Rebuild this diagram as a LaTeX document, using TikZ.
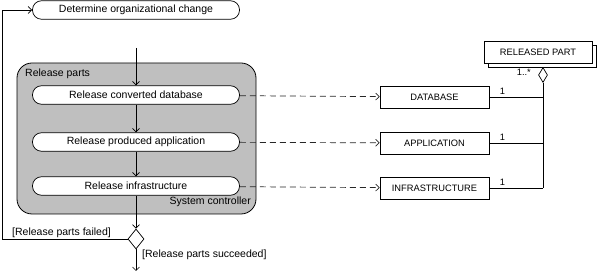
\documentclass[tikz,border=0pt]{standalone}
\usepackage{fontspec}
\setmainfont{Liberation Sans}
\usetikzlibrary{positioning,arrows.meta,shapes.geometric,calc}

\begin{document}
\begin{tikzpicture}[
	x=1pt, y=-1pt,
	font=\fontsize{10.5}{12}\selectfont,
	>={Straight Barb[length=3.5pt,width=7pt]},
	act/.style={draw, line width=0.7pt, rounded corners=9pt, fill=white,
		minimum width=207pt, minimum height=18.5pt, inner sep=0pt},
	cls/.style={draw, line width=0.7pt, fill=white, minimum width=109pt,
		minimum height=22pt, inner sep=0pt, font=\fontsize{9.3}{11}\selectfont},
	grp/.style={draw, line width=0.8pt, fill=black!25, rounded corners=15pt,
		minimum width=239pt, minimum height=151pt, inner sep=0pt},
	choice/.style={diamond, draw, line width=0.7pt, fill=white, inner sep=0pt,
		minimum width=16pt, minimum height=20pt},
	agg/.style={choice, minimum width=9pt, minimum height=15pt},
	flow/.style={->, line width=0.7pt},
	dep/.style={->, line width=0.7pt, black!85, dash pattern=on 6pt off 4pt},
	assoc/.style={line width=0.7pt},
	lbl/.style={inner sep=0pt},
]
\useasboundingbox (0,0) rectangle (598,272);

% ---- activity flow ----
\node[act] (change) at (136,10) {Determine organizational change};
\coordinate (start) at (136,48);

\node[grp] (parts) at (136.5,138.5) {};
\node[lbl, anchor=west] (partslbl) at (25,74) {Release parts};
\node[lbl, anchor=east] (ctrl) at (251,202) {System controller};

\node[act] (reldb)  at (136,95)  {Release converted database};
\node[act] (relapp) at (136,142) {Release produced application};
\node[act] (relinf) at (136,186) {Release infrastructure};

\node[choice] (dec) at (136,239) {};
\coordinate (end) at (136,271);
\coordinate (back) at (2,10);

\draw[flow] (start) -- (reldb);
\draw[flow] (reldb) -- (relapp);
\draw[flow] (relapp) -- (relinf);
\draw[flow] (relinf) -- (dec);
\draw[flow] (dec) -- (end);
\draw[flow] (dec.west) -| (back) -- (change.west);

\node[lbl, anchor=base west] (failed) at (12,235.5) {[Release parts failed]};
\node[lbl, anchor=west] (succ) at (142,255) {[Release parts succeeded]};

% ---- released parts ----
\node[cls] (db)  at (434.5,97)  {DATABASE};
\node[cls] (app) at (434.5,143) {APPLICATION};
\node[cls] (inf) at (434.5,188) {INFRASTRUCTURE};

\node[cls, minimum width=108pt] (partback) at (542,56) {};
\node[cls, minimum width=108pt] (part) at (538,52) {RELEASED PART};
\node[agg] (aggr) at (543,75) {};

\draw[dep] (reldb)  -- (db);
\draw[dep] (relapp) -- (app);
\draw[dep] (relinf) -- (inf);

\draw[assoc] (aggr.south) -- (inf.east -| aggr.south);
\draw[assoc] (db.east)  -- (db.east -| aggr.south);
\draw[assoc] (app.east) -- (app.east -| aggr.south);
\draw[assoc] (inf.east) -- (inf.east -| aggr.south);

\foreach \c in {db,app,inf}
	\node[lbl, font=\fontsize{9.3}{11}\selectfont, anchor=south] at ($(\c.east)+(13,-2)$) {1};
\node[lbl, font=\fontsize{9.3}{11}\selectfont, anchor=east] (mult) at (531,72) {1..*};

\end{tikzpicture}
\end{document}
